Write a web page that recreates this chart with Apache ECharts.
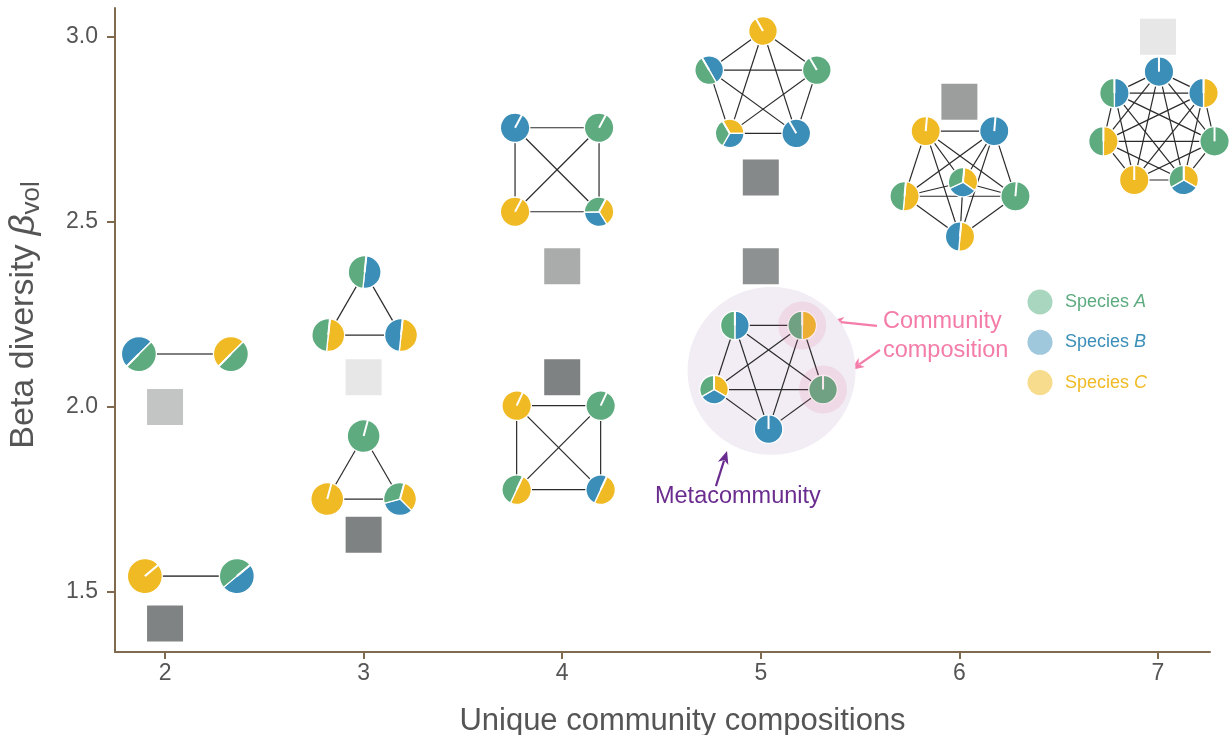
<!DOCTYPE html>
<html>
<head>
<meta charset="utf-8">
<script src="https://cdn.jsdelivr.net/npm/echarts@6/dist/echarts.min.js"></script>
<style>
  html, body { margin: 0; padding: 0; background: #fff; }
  #chart { width: 1229px; height: 735px; }
</style>
</head>
<body>
<div id="chart"></div>
<script>
// ---- data ----------------------------------------------------------------
const species = ['A', 'B', 'C'];
const xTicks = [2, 3, 4, 5, 6, 7];
const yTicks = [1.5, 2.0, 2.5, 3.0];

// beta diversity of each metacommunity, by number of unique compositions
const uniqueCompositions = [2, 2, 3, 3, 4, 4, 5, 5, 6, 7];
const betaVol = [2.00, 1.415, 2.08, 1.655, 2.38, 2.08, 2.62, 2.38, 2.825, 3.00];
const squareShade = [0.66, 0.01, 1.0, 0.0, 0.42, 0.0, 0.07, 0.15, 0.28, 1.0];

// where each example network sits, in axis units
const metaX = [2.10, 2.13, 3.005, 3.00, 3.974, 3.982, 5.011, 5.039, 6.003, 7.005];
const metaY = [2.143, 1.543, 2.251, 1.808, 2.641, 1.890, 2.863, 2.095, 2.618, 2.752];

// community compositions (presence of species A, B, C) of each node
const metaCommunities = [
  [[1,1,0], [1,0,1]],
  [[0,0,1], [1,1,0]],
  [[1,1,0], [0,1,1], [1,0,1]],
  [[1,0,0], [1,1,1], [0,0,1]],
  [[0,1,0], [1,0,0], [1,1,1], [0,0,1]],
  [[0,0,1], [1,0,0], [0,1,1], [1,0,1]],
  [[0,0,1], [1,0,0], [0,1,0], [1,1,1], [1,1,0]],
  [[1,1,0], [1,0,1], [1,0,0], [0,1,0], [1,1,1]],
  [[0,0,1], [0,1,0], [1,0,0], [0,1,1], [1,0,1], [1,1,1]],
  [[0,1,0], [0,1,1], [1,0,0], [1,1,1], [0,0,1], [1,0,1], [1,1,0]]
];

// ---- drawing config --------------------------------------------------------
const FONT = 'Liberation Sans, Arial, Helvetica, sans-serif';
const speciesColor = ['#5dab7f', '#3b8eb8', '#f0ba24'];
const legendColor = ['#a9d6be', '#9fc8dd', '#f7dc8e'];
const axisColor = '#7f6a4f';
const sliceOrder = [2, 1, 0]; // clockwise: C, B, A

// ring layout of each network: ring radius (px), angle of first node (deg, screen),
// pie radius, pie start angle (deg, counter-clockwise from east)
const RING = [
  { radius: 46,   first: 180,  pie: 17.5, start: 225 },
  { radius: 46,   first: 180,  pie: 17.5, start: 40 },
  { radius: 42,   first: -90,  pie: 16.4, start: 84 },
  { radius: 42,   first: -90,  pie: 16.4, start: 75 },
  { radius: 59.4, first: -135, pie: 14.7, start: 62 },
  { radius: 59.4, first: -135, pie: 14.7, start: 65 },
  { radius: 56.6, first: -90,  pie: 14.3, start: 120 },
  { radius: 57.3, first: -126, pie: 14.3, start: 90, halo: 84, highlight: [1, 2] },
  { radius: 58.3, first: -126, pie: 14.6, start: 85, hub: true },
  { radius: 57,   first: -90,  pie: 14.7, start: 90 }
];

function renderNetwork(params, api) {
  const k = api.value(2);
  const c = api.coord([api.value(0), api.value(1)]);
  const L = RING[k];
  const nodes = metaCommunities[k];
  const nOuter = L.hub ? nodes.length - 1 : nodes.length;
  const pts = nodes.map((_, i) => {
    if (L.hub && i === nodes.length - 1) return [c[0] + 3, c[1] + 4];
    const t = (L.first + i * 360 / nOuter) * Math.PI / 180;
    return [c[0] + L.radius * Math.cos(t), c[1] + L.radius * Math.sin(t)];
  });
  const children = [];
  if (L.halo) {
    children.push({ type: 'circle', shape: { cx: c[0] + 3, cy: c[1] - 1, r: L.halo },
      style: { fill: '#f2edf5' } });
  }
  for (let a = 0; a < pts.length; a++) {
    for (let b = a + 1; b < pts.length; b++) {
      children.push({ type: 'line',
        shape: { x1: pts[a][0], y1: pts[a][1], x2: pts[b][0], y2: pts[b][1] },
        style: { stroke: k < 2 ? '#555' : '#2b2b2b', lineWidth: k < 2 ? 1.6 : 1.2 } });
    }
  }
  const s0 = -L.start * Math.PI / 180;
  nodes.forEach((comp, i) => {
    const total = comp[0] + comp[1] + comp[2];
    let cum = 0;
    sliceOrder.forEach(sp => {
      if (!comp[sp]) return;
      const frac = comp[sp] / total;
      children.push({ type: 'sector',
        shape: { cx: pts[i][0], cy: pts[i][1], r0: 0, r: L.pie,
                 startAngle: s0 + cum * 2 * Math.PI,
                 endAngle: s0 + (cum + frac) * 2 * Math.PI, clockwise: true },
        style: { fill: speciesColor[sp], stroke: '#fff', lineWidth: 1.3 } });
      cum += frac;
    });
    children.push({ type: 'line',
      shape: { x1: pts[i][0], y1: pts[i][1],
               x2: pts[i][0] + L.pie * Math.cos(s0), y2: pts[i][1] + L.pie * Math.sin(s0) },
      style: { stroke: '#fff', lineWidth: 2 } });
  });
  (L.highlight || []).forEach(i => {
    children.push({ type: 'circle', shape: { cx: pts[i][0], cy: pts[i][1], r: 24 },
      style: { fill: 'rgba(222,105,150,0.15)' } });
  });
  return { type: 'group', children };
}

const chart = echarts.init(document.getElementById('chart'), null, { renderer: 'canvas' });

const option = {
  animation: false,
  backgroundColor: '#fff',
  textStyle: { fontFamily: FONT },
  grid: { left: 115, right: 19, top: 8, bottom: 83, containLabel: false, outerBoundsMode: 'none' },
  xAxis: {
    type: 'value', min: 1.748, max: 7.262,
    name: 'Unique community compositions',
    nameLocation: 'middle', nameGap: 54, nameMoveOverlap: false,
    nameTextStyle: { fontFamily: FONT, fontSize: 31, color: '#555', padding: [0, 0, 0, 40] },
    axisLine: { show: true, lineStyle: { color: axisColor, width: 2 } },
    axisTick: { show: true, length: 7, customValues: xTicks, lineStyle: { color: axisColor, width: 2 } },
    axisLabel: { customValues: xTicks, fontFamily: FONT, fontSize: 23, color: '#555', margin: 10 },
    splitLine: { show: false }
  },
  yAxis: {
    type: 'value', min: 1.338, max: 3.078,
    name: 'Beta diversity {g|β}{s|vol}',
    nameLocation: 'middle', nameGap: 70, nameMoveOverlap: false,
    nameTextStyle: {
      fontFamily: FONT, fontSize: 34, color: '#555', padding: [0, 0, 0, 30],
      rich: {
        g: { fontFamily: FONT, fontSize: 36, color: '#555', fontStyle: 'italic' },
        s: { fontFamily: FONT, fontSize: 26, color: '#555', padding: [16, 0, 0, 0] }
      }
    },
    axisLine: { show: true, lineStyle: { color: axisColor, width: 2 } },
    axisTick: { show: true, length: 8, customValues: yTicks, lineStyle: { color: axisColor, width: 2 } },
    axisLabel: { customValues: yTicks, fontFamily: FONT, fontSize: 23, color: '#555', margin: 17,
                 formatter: v => v.toFixed(1) },
    splitLine: { show: false }
  },
  visualMap: {
    show: false, type: 'continuous', seriesIndex: 0, dimension: 2, min: 0, max: 1,
    inRange: { color: ['#7f8282', '#e6e7e6'] }
  },
  series: [
    {
      type: 'scatter', symbol: 'rect', symbolSize: 36, z: 2,
      data: uniqueCompositions.map((x, i) => [x, betaVol[i], squareShade[i]]),
      itemStyle: { opacity: 1 }
    },
    {
      type: 'custom', z: 3, clip: false,
      renderItem: renderNetwork,
      encode: { x: 0, y: 1 },
      data: metaX.map((x, i) => [x, metaY[i], i])
    }
  ]
};
chart.setOption(option);

// legend and annotations
const px = p => chart.convertToPixel({ gridIndex: 0 }, p);
const legendTop = 302, legendStep = 40.3;
const graphics = [];
species.forEach((s, i) => {
  const y = legendTop + i * legendStep;
  graphics.push({ type: 'circle', left: 1027.5, top: y - 12.5, shape: { r: 12.5 },
    style: { fill: legendColor[i] } });
  graphics.push({ type: 'text', x: 1065, y: y,
    style: { text: 'Species {i|' + s + '}', fontFamily: FONT, fontSize: 18, fill: speciesColor[i],
      verticalAlign: 'middle',
      rich: { i: { fontFamily: FONT, fontSize: 18, fontStyle: 'italic', fill: speciesColor[i] } } } });
});

function arrow(from, to, color) {
  const a = px(from), b = px(to);
  const ang = Math.atan2(b[1] - a[1], b[0] - a[0]);
  const hl = 13, hw = 5.5;
  const base = [b[0] - hl * Math.cos(ang), b[1] - hl * Math.sin(ang)];
  const nx = -Math.sin(ang), ny = Math.cos(ang);
  graphics.push({ type: 'line', shape: { x1: a[0], y1: a[1], x2: base[0] + 3 * Math.cos(ang), y2: base[1] + 3 * Math.sin(ang) },
    style: { stroke: color, lineWidth: 2.2 } });
  graphics.push({ type: 'polygon', shape: { points: [b,
      [base[0] + hw * nx, base[1] + hw * ny], [base[0] + 3.5 * Math.cos(ang), base[1] + 3.5 * Math.sin(ang)],
      [base[0] - hw * nx, base[1] - hw * ny]] },
    style: { fill: color } });
}
function label(text, at, color) {
  const p = px(at);
  graphics.push({ type: 'text', x: p[0], y: p[1],
    style: { text, fontFamily: FONT, fontSize: 23.5, fill: color, verticalAlign: 'middle', align: 'left' } });
}
const pink = '#f47ca8', purple = '#6a2c8e';
arrow([5.585, 2.219], [5.353, 2.232], pink);
arrow([5.600, 2.154], [5.454, 2.100], pink);
arrow([4.774, 1.786], [4.830, 1.881], purple);
label('Community', [5.615, 2.230], pink);
label('composition', [5.615, 2.152], pink);
label('Metacommunity', [4.467, 1.757], purple);

chart.setOption({ graphic: graphics });
</script>
</body>
</html>
